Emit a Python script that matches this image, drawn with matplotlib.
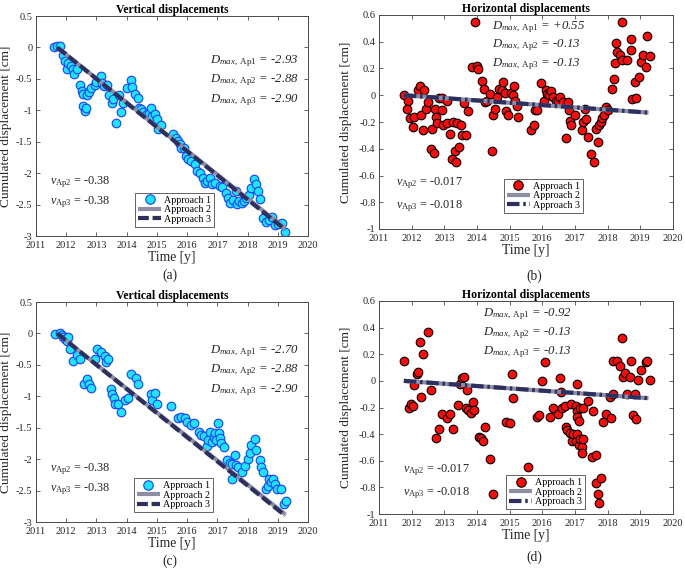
import numpy as np
import matplotlib
matplotlib.use("Agg")
import matplotlib.pyplot as plt
from matplotlib.lines import Line2D
from matplotlib.ticker import FuncFormatter, MultipleLocator

plt.rcParams['font.family'] = ['Liberation Serif', 'DejaVu Serif']
plt.rcParams['mathtext.fontset'] = 'custom'
plt.rcParams['mathtext.rm'] = 'Liberation Serif'
plt.rcParams['mathtext.it'] = 'Liberation Serif:italic'
plt.rcParams['mathtext.bf'] = 'Liberation Serif:bold'
plt.rcParams['axes.unicode_minus'] = False

# ---------------- data ----------------
# (a) vertical displacements, approach 1
t_a = [2011.61, 2011.70, 2011.81, 2011.88, 2011.96, 2012.01, 2012.07, 2012.15, 2012.23, 2012.26,
       2012.37, 2012.46, 2012.51, 2012.54, 2012.57, 2012.62, 2012.65, 2012.68, 2012.76, 2012.81,
       2012.95, 2013.00, 2013.14, 2013.17, 2013.25, 2013.34, 2013.43, 2013.50, 2013.56, 2013.65,
       2013.76, 2013.80, 2013.87, 2014.02, 2014.13, 2014.19, 2014.27, 2014.36, 2014.41, 2014.49,
       2014.55, 2014.66, 2014.74, 2014.79, 2014.85, 2014.93, 2014.99, 2015.04, 2015.15, 2015.54,
       2015.63, 2015.70, 2015.76, 2015.81, 2015.90, 2015.96, 2016.03, 2016.14, 2016.25, 2016.33,
       2016.42, 2016.51, 2016.58, 2016.66, 2016.75, 2016.83, 2016.91, 2017.08, 2017.17, 2017.28,
       2017.35, 2017.43, 2017.52, 2017.61, 2017.65, 2017.72, 2017.80, 2017.88, 2017.96, 2018.05,
       2018.10, 2018.20, 2018.27, 2018.35, 2018.42, 2018.51, 2018.62, 2018.71, 2018.82, 2018.90,
       2019.01, 2019.15, 2019.23]
d_a = [0.00, 0.03, 0.03, -0.12, -0.22, -0.34, -0.25, -0.29, -0.34, -0.43,
       -0.34, -0.59, -0.70, -0.74, -0.93, -1.01, -0.97, -0.76, -0.71, -0.64,
       -0.60, -0.55, -0.45, -0.56, -0.62, -0.60, -0.76, -0.89, -0.82, -1.20,
       -0.76, -1.03, -0.89, -0.65, -0.52, -0.63, -0.74, -0.80, -0.96, -0.98,
       -1.02, -1.06, -1.04, -0.96, -1.09, -1.06, -1.14, -1.30, -1.23, -1.38,
       -1.44, -1.49, -1.54, -1.60, -1.60, -1.73, -1.78, -1.80, -1.86, -1.97,
       -2.00, -2.07, -2.15, -2.13, -2.07, -2.18, -2.15, -2.20, -2.22, -2.31,
       -2.39, -2.47, -2.42, -2.29, -2.49, -2.45, -2.47, -2.45, -2.39, -2.34,
       -2.23, -2.09, -2.18, -2.29, -2.41, -2.71, -2.77, -2.74, -2.69, -2.82,
       -2.81, -2.79, -2.93]

# (b) horizontal displacements, approach 1
t_b = [2011.76, 2011.88, 2011.85, 2011.95, 2012.03, 2012.08, 2012.18, 2012.25, 2012.28, 2012.34,
       2012.38, 2012.43, 2012.51, 2012.59, 2012.62, 2012.69, 2012.71, 2012.76, 2012.79, 2012.85,
       2012.92, 2012.94, 2012.97, 2013.07, 2013.09, 2013.17, 2013.24, 2013.27, 2013.32, 2013.35,
       2013.40, 2013.45, 2013.50, 2013.53, 2013.60, 2013.66, 2013.73, 2013.86, 2013.94, 2013.99,
       2014.04, 2014.16, 2014.21, 2014.25, 2014.32, 2014.39, 2014.47, 2014.50, 2014.55, 2014.60,
       2014.68, 2014.75, 2014.80, 2014.85, 2014.90, 2014.96, 2015.03, 2015.11, 2015.14, 2015.16,
       2015.23, 2015.26, 2015.64, 2015.74, 2015.77, 2015.84, 2015.97, 2016.06, 2016.11, 2016.15,
       2016.20, 2016.25, 2016.33, 2016.41, 2016.48, 2016.54, 2016.62, 2016.71, 2016.79, 2016.82,
       2016.86, 2016.89, 2016.99, 2017.20, 2017.23, 2017.30, 2017.33, 2017.40, 2017.50, 2017.58,
       2017.64, 2017.69, 2017.74, 2017.79, 2017.84, 2017.89, 2017.94, 2018.01, 2018.12, 2018.19,
       2018.22, 2018.27, 2018.29, 2018.37, 2018.45, 2018.45, 2018.59, 2018.70, 2018.71, 2018.76,
       2018.83, 2018.86, 2018.96, 2019.01, 2019.08, 2019.17, 2019.21, 2019.29]
d_b = [0.00, -0.04, -0.10, -0.17, -0.24, -0.16, 0.04, 0.07, -0.15, -0.26,
       0.04, -0.10, -0.05, -0.40, -0.25, -0.43, -0.10, -0.16, -0.21, -0.02,
       -0.02, -0.11, -0.22, -0.21, -0.04, -0.29, -0.48, -0.20, -0.42, -0.50,
       -0.21, -0.39, -0.22, -0.30, -0.06, -0.30, -0.12, 0.21, 0.55, 0.22,
       0.20, 0.11, 0.05, -0.05, -0.04, 0.01, -0.42, -0.15, -0.10, -0.01,
       0.05, 0.04, 0.10, 0.02, -0.12, -0.15, 0.02, 0.00, 0.07, -0.04,
       -0.08, -0.16, -0.26, -0.22, -0.11, -0.11, 0.09, -0.04, 0.04, 0.01,
       0.00, 0.03, -0.01, -0.04, -0.05, -0.01, -0.05, -0.32, -0.05, -0.11,
       -0.19, -0.22, -0.15, -0.26, -0.20, -0.10, -0.18, -0.31, -0.44, -0.50,
       -0.25, -0.35, -0.22, -0.20, -0.17, -0.15, -0.09, -0.11, 0.05, 0.12,
       0.24, 0.39, 0.32, 0.30, 0.26, 0.55, 0.26, 0.42, 0.34, -0.03,
       0.10, -0.02, 0.14, 0.25, 0.30, 0.21, 0.44, 0.29]

# (c) vertical displacements, approach 1
t_c = [2011.63, 2011.79, 2011.85, 2011.90, 2011.96, 2012.01, 2012.07, 2012.12, 2012.21, 2012.37,
       2012.45, 2012.59, 2012.70, 2012.76, 2012.81, 2012.95, 2013.03, 2013.14, 2013.28, 2013.31,
       2013.39, 2013.47, 2013.53, 2013.58, 2013.63, 2013.72, 2013.80, 2013.94, 2014.05, 2014.13,
       2014.30, 2014.38, 2014.79, 2014.85, 2014.94, 2014.99, 2015.48, 2015.70, 2015.79, 2015.92,
       2016.00, 2016.14, 2016.22, 2016.40, 2016.47, 2016.55, 2016.66, 2016.69, 2016.75, 2016.84,
       2016.88, 2016.91, 2016.97, 2017.02, 2017.06, 2017.08, 2017.13, 2017.21, 2017.33, 2017.41,
       2017.50, 2017.50, 2017.57, 2017.61, 2017.69, 2017.80, 2017.91, 2018.02, 2018.07, 2018.13,
       2018.24, 2018.29, 2018.40, 2018.46, 2018.51, 2018.60, 2018.68, 2018.71, 2018.79, 2018.84,
       2018.90, 2018.97, 2019.12, 2019.19, 2019.26]
d_c = [-0.01, 0.00, -0.02, -0.05, -0.09, -0.12, -0.05, -0.24, -0.44, -0.35,
       -0.40, -0.81, -0.73, -0.81, -0.87, -0.40, -0.25, -0.29, -0.36, -0.46,
       -0.41, -0.88, -0.97, -1.03, -1.13, -1.12, -1.25, -1.06, -1.03, -0.65,
       -0.71, -0.80, -0.97, -1.06, -0.94, -1.13, -1.15, -1.34, -1.33, -1.35,
       -1.41, -1.46, -1.42, -1.57, -1.61, -1.63, -1.79, -1.70, -1.57, -1.72,
       -1.65, -1.58, -1.70, -1.43, -1.58, -1.66, -1.75, -1.81, -2.02, -2.06,
       -2.07, -2.31, -1.93, -2.10, -2.12, -2.20, -2.11, -1.99, -1.91, -1.78,
       -1.68, -1.86, -2.02, -2.12, -2.21, -2.48, -2.42, -2.31, -2.36, -2.31,
       -2.39, -2.47, -2.48, -2.71, -2.66]

# (d) horizontal displacements, approach 1
t_d = [2011.77, 2011.92, 2011.98, 2012.03, 2012.08, 2012.15, 2012.18, 2012.25, 2012.28, 2012.36,
       2012.51, 2012.58, 2012.76, 2012.83, 2012.92, 2013.07, 2013.17, 2013.25, 2013.43, 2013.48,
       2013.53, 2013.60, 2013.66, 2013.68, 2013.73, 2013.81, 2013.88, 2013.91, 2014.07, 2014.12,
       2014.19, 2014.26, 2014.41, 2014.50, 2014.90, 2015.01, 2015.08, 2015.09, 2015.57, 2015.83,
       2015.91, 2016.00, 2016.08, 2016.23, 2016.32, 2016.49, 2016.54, 2016.56, 2016.61, 2016.69,
       2016.72, 2016.76, 2016.85, 2016.87, 2016.92, 2016.95, 2017.02, 2017.02, 2017.05, 2017.05,
       2017.07, 2017.07, 2017.13, 2017.13, 2017.14, 2017.14, 2017.20, 2017.20, 2017.24, 2017.26,
       2017.41, 2017.51, 2017.54, 2017.64, 2017.64, 2017.71, 2017.74, 2017.79, 2017.86, 2017.95,
       2018.07, 2018.09, 2018.15, 2018.15, 2018.29, 2018.37, 2018.45, 2018.47, 2018.54, 2018.59,
       2018.68, 2018.71, 2018.78, 2018.85, 2018.86, 2018.93, 2019.03, 2019.17, 2019.21, 2019.29]
d_d = [0.15, -0.20, -0.17, -0.19, -0.03, 0.05, 0.07, 0.29, -0.12, 0.20,
       0.37, -0.07, -0.43, -0.36, -0.25, -0.28, -0.25, -0.36, -0.18, -0.02,
       0.02, 0.03, -0.20, -0.07, -0.22, -0.24, -0.16, -0.22, -0.42, -0.43,
       -0.45, -0.35, -0.59, -0.85, -0.31, -0.32, 0.05, -0.13, -0.65, -0.27,
       -0.26, 0.00, 0.14, -0.27, -0.20, -0.25, 0.02, -0.08, -0.20, -0.19,
       -0.35, -0.37, -0.39, -0.17, -0.45, -0.40, -0.19, -0.45, -0.40, -0.23,
       -0.02, -0.27, -0.30, -0.48, -0.20, -0.44, -0.50, -0.54, -0.44, -0.20,
       -0.15, -0.57, -0.23, -0.56, -0.77, -0.85, -0.92, -0.73, -0.31, -0.25,
       -0.12, -0.28, -0.10, 0.15, 0.15, 0.11, 0.32, 0.03, 0.06, -0.10,
       0.03, 0.15, -0.26, -0.10, -0.29, 0.01, 0.08, 0.14, 0.15, 0.01]

# linear trends (approaches 2 and 3): start / end
trend_t_a = [2011.70, 2019.25]
ap2_a = [0.0, -2.88]
ap3_a = [0.0, -2.90]
trend_t_b = [2011.76, 2019.25]
ap2_b = [0.0, -0.13]
ap3_b = [0.0, -0.13]
trend_t_c = [2011.70, 2019.25]
ap2_c = [0.0, -2.88]
ap3_c = [0.0, -2.90]
trend_t_d = [2011.76, 2019.25]
ap2_d = [0.0, -0.13]
ap3_d = [0.0, -0.13]

dmax_a = ['-2.93', '-2.88', '-2.90']
dmax_b = ['+0.55', '-0.13', '-0.13']
dmax_c = ['-2.70', '-2.88', '-2.90']
dmax_d = ['-0.92', '-0.13', '-0.13']
vel_v = ['-0.38', '-0.38']
vel_h = ['-0.017', '-0.018']

legend_labels = ['Approach 1', 'Approach 2', 'Approach 3']
panel_labels = ['(a)', '(b)', '(c)', '(d)']

# ---------------- style ----------------
CYAN = '#19e6ff'
CYAN_EDGE = '#1e3cff'
RED = '#ff0a0a'
GRAY = '#8d8da3'
NAVY = '#2d2f5f'
SPINE = '#4a4a4a'
TXT = '#262626'

fig = plt.figure(figsize=(6.85, 5.7), dpi=100)

W, H = 685.0, 570.0
def box(l, t, r, b):
    return [l / W, 1 - b / H, (r - l) / W, (b - t) / H]

ax_a = fig.add_axes(box(36, 16, 308, 236))
ax_b = fig.add_axes(box(379, 15, 673, 229))
ax_c = fig.add_axes(box(36, 302, 308, 522))
ax_d = fig.add_axes(box(379, 301, 673, 514))

fmt = FuncFormatter(lambda v, p: '{:g}'.format(round(v, 2)))

def panel(ax, t, d, tt, ap2, ap3, face, edge, title, ylim, ystep,
          dmax, vel, dpos, vpos, legpos, ap3_style, ylab_x):
    ax.plot(t, d, 'o', ls='none', ms=6.2, mfc=face, mec=edge, mew=0.8, zorder=2)
    ax.plot(tt, ap2, '-', color=GRAY, lw=3.0, solid_capstyle='butt', zorder=3)
    ax.plot(tt, ap3, color=NAVY, lw=3.0, ls=ap3_style, dash_capstyle='butt', zorder=4)
    ax.set_xlim(2011, 2020)
    ax.set_ylim(*ylim)
    ax.xaxis.set_major_locator(MultipleLocator(1))
    ax.yaxis.set_major_locator(MultipleLocator(ystep))
    ax.yaxis.set_major_formatter(fmt)
    ax.tick_params(direction='in', length=3, width=0.6, top=True, right=True,
                   labelsize=7.5, colors=SPINE, labelcolor=TXT)
    ax.tick_params(axis='y', pad=2.5)
    ax.tick_params(axis='x', pad=3.8)
    for s in ax.spines.values():
        s.set_color(SPINE)
        s.set_linewidth(0.7)
    ax.set_title(title, fontsize=8.5, fontweight='bold', pad=2.5, color='black')
    ax.set_xlabel('Time [y]', fontsize=9.8, labelpad=0.5, color=TXT)
    ax.set_ylabel('Cumulated displacement [cm]', fontsize=9.6, color=TXT)
    ax.yaxis.set_label_coords(ylab_x, 0.5)
    subs = ['Ap1', 'Ap2', 'Ap3']
    for i, (val, yy) in enumerate(zip(dmax, dpos[1])):
        ax.text(dpos[0], yy, r'$D_{max\mathrm{,\ %s}}$ = %s' % (subs[i], val),
                transform=ax.transAxes, fontsize=9.2, style='italic',
                va='baseline', ha='left', color=TXT)
    for i, (val, yy) in enumerate(zip(vel, vpos[1])):
        ax.text(vpos[0], yy, r'$v_{\mathrm{%s}}$ = %s' % (subs[i + 1], val),
                transform=ax.transAxes, fontsize=8.8, va='baseline', ha='left', color=TXT)
    handles = [Line2D([], [], marker='o', ls='none', ms=6.8, mfc=face, mec=edge, mew=0.8),
               Line2D([], [], color=GRAY, lw=3.0, solid_capstyle='butt'),
               Line2D([], [], color=NAVY, lw=3.0, ls=ap3_style, dash_capstyle='butt')]
    leg = ax.legend(handles, legend_labels, loc='lower left', bbox_to_anchor=legpos,
                    borderaxespad=0, fontsize=7.2, frameon=True, fancybox=False,
                    edgecolor=SPINE, framealpha=1, handlelength=2.3, handletextpad=0.3,
                    labelspacing=0.05, borderpad=0.3)
    leg.get_frame().set_linewidth(0.6)

dashed = (0, (2.6, 0.9))
dashdot = (0, (3.0, 0.9, 0.6, 0.9))

panel(ax_a, t_a, d_a, trend_t_a, ap2_a, ap3_a, CYAN, CYAN_EDGE, 'Vertical displacements',
      (-3, 0.5), 0.5, dmax_a, vel_v, (0.64, [0.785, 0.697, 0.609]), (0.05, [0.236, 0.146]),
      (0.364, 0.041), dashed, -0.087)
panel(ax_b, t_b, d_b, trend_t_b, ap2_b, ap3_b, RED, 'black', 'Horizontal displacements',
      (-1, 0.6), 0.2, dmax_b, vel_h, (0.384, [0.935, 0.848, 0.760]), (0.058, [0.205, 0.098]),
      (0.425, 0.075), dashdot, -0.093)
panel(ax_c, t_c, d_c, trend_t_c, ap2_c, ap3_c, CYAN, CYAN_EDGE, 'Vertical displacements',
      (-3, 0.5), 0.5, dmax_c, vel_v, (0.64, [0.768, 0.680, 0.592]), (0.05, [0.232, 0.142]),
      (0.36, 0.045), dashed, -0.087)
panel(ax_d, t_d, d_d, trend_t_d, ap2_d, ap3_d, RED, 'black', 'Horizontal displacements',
      (-1, 0.6), 0.2, dmax_d, vel_h, (0.354, [0.930, 0.840, 0.752]), (0.082, [0.195, 0.090]),
      (0.432, 0.023), dashdot, -0.093)

for lab, (x, y) in zip(panel_labels, [(170, 275), (534, 276), (170, 561), (534, 557)]):
    fig.text(x / W, 1 - y / H, lab, fontsize=9.8, ha='center', va='center', color=TXT)

fig.savefig('out.png', dpi=100)
